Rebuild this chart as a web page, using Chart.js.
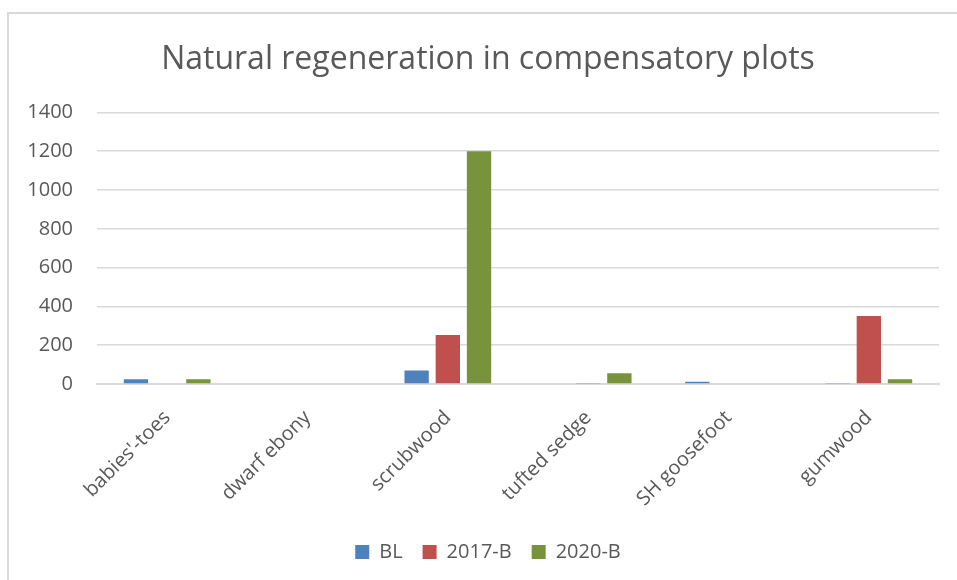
<!DOCTYPE html>
<html>
<head>
<meta charset="utf-8">
<title>Natural regeneration in compensatory plots</title>
<script src="https://cdn.jsdelivr.net/npm/chart.js@4.4.1/dist/chart.umd.min.js"></script>
<style>
    html, body { margin: 0; padding: 0; background: #fff; }
    #wrap { position: relative; width: 957px; height: 580px; overflow: hidden; }
    #frame { position: absolute; left: 7px; top: 12px; width: 1000px; height: 620px; border: 2px solid #d9d9d9; box-sizing: border-box; }
    #chart { position: absolute; left: 0; top: 0; }
</style>
</head>
<body>
<div id="wrap">
    <div id="frame"></div>
    <canvas id="chart" width="957" height="580"></canvas>
</div>
<script>
// chart data
const categories = ["babies'-toes", "dwarf ebony", "scrubwood", "tufted sedge", "SH goosefoot", "gumwood"];
const seriesNames = ["BL", "2017-B", "2020-B"];
const blValues = [25, 0, 70, 0, 12, 5];
const b2017Values = [0, 0, 252, 5, 0, 350];
const b2020Values = [25, 0, 1200, 55, 0, 25];
const yTicks = [0, 200, 400, 600, 800, 1000, 1200, 1400];

const colors = ['#4f81bd', '#c0504d', '#77933c'];
const textColor = '#595959';
const fontFamily = "'Open Sans', 'Liberation Sans', sans-serif";

// centre title and legend on the frame rather than on the canvas
const shiftBlocks = {
    id: 'shiftBlocks',
    afterLayout(chart) {
        if (chart.titleBlock) chart.titleBlock.left = 37;
        if (chart.legend) chart.legend.left = 37;
    }
};

const ctx = document.getElementById('chart').getContext('2d');
const myChart = new Chart(ctx, {
    type: 'bar',
    data: {
        labels: categories,
        datasets: [blValues, b2017Values, b2020Values].map((vals, i) => ({
            label: seriesNames[i],
            data: vals,
            backgroundColor: colors[i],
            borderWidth: 0,
            categoryPercentage: 0.667,
            barPercentage: 0.78
        }))
    },
    plugins: [shiftBlocks],
    options: {
        responsive: false,
        animation: false,
        layout: { padding: { left: 0, right: 18, top: 0, bottom: 8 } },
        plugins: {
            title: {
                display: true,
                text: 'Natural regeneration in compensatory plots',
                color: textColor,
                font: { family: fontFamily, size: 32, weight: 'normal' },
                padding: { top: 41, bottom: 33 }
            },
            legend: {
                position: 'bottom',
                labels: {
                    color: textColor,
                    font: { family: fontFamily, size: 20 },
                    boxWidth: 14,
                    boxHeight: 14,
                    padding: 20
                }
            },
            tooltip: { enabled: false }
        },
        scales: {
            x: {
                grid: { display: false },
                border: { display: true, color: '#d9d9d9', width: 2 },
                ticks: {
                    color: textColor,
                    font: { family: fontFamily, size: 20 },
                    maxRotation: 45,
                    minRotation: 45,
                    padding: 14
                },
                afterFit: (scale) => { scale.height = 138; }
            },
            y: {
                min: 0,
                max: 1400,
                afterBuildTicks: (scale) => { scale.ticks = yTicks.map(v => ({ value: v })); },
                grid: { color: '#d9d9d9', lineWidth: 1.5, drawTicks: false },
                border: { display: false },
                ticks: {
                    color: textColor,
                    font: { family: fontFamily, size: 20 },
                    padding: 24,
                    callback: (v) => String(v)
                },
                afterFit: (scale) => { scale.width = 97; }
            }
        }
    }
});
</script>
</body>
</html>
